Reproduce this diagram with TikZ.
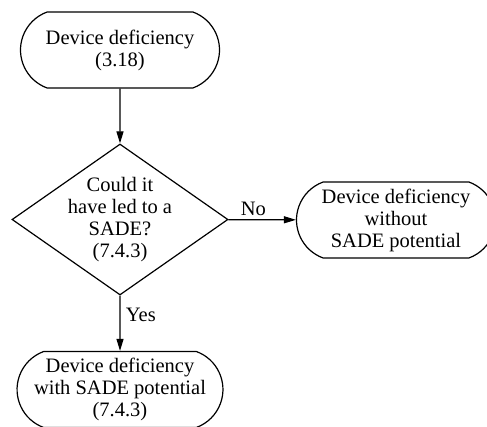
\documentclass[tikz,border=0pt]{standalone}
\usepackage{fontspec}
\setmainfont{Liberation Serif}
\usetikzlibrary{shapes.geometric,shapes.misc,arrows.meta}

\tikzset{
  terminal/.style={draw, rounded rectangle, rounded rectangle arc length=140,
    minimum width=203pt, minimum height=76pt, align=center, inner sep=2pt},
  decision/.style={draw, diamond, minimum width=216pt, minimum height=151pt,
    inner sep=-14pt, align=center},
  flow/.style={-{Triangle[length=12pt,width=7pt]}}
}

\begin{document}
\begin{tikzpicture}[x=1pt, y=1pt, line width=1.2pt,
    font=\fontsize{20.5}{22}\selectfont]
  \useasboundingbox (0,0) rectangle (487,426);
  \node[terminal] (dev) at (120,376) {Device deficiency\\(3.18)};
  \node[decision] (q) at (120,206.5) {Could it\\have led to a\\SADE?\\(7.4.3)};
  \node[terminal] (nosade) at (396,206) {Device deficiency\\without\\SADE potential};
  \node[terminal] (sade) at (120,36.5) {Device deficiency\\with SADE potential\\(7.4.3)};
  \draw[flow] (dev) -- (q);
  \draw[flow] (q) -- node[above, pos=0.37] (no) {No} (nosade);
  \draw[flow] (q) -- node[right, pos=0.35, xshift=2pt] (yes) {Yes} (sade);
\end{tikzpicture}
\end{document}
